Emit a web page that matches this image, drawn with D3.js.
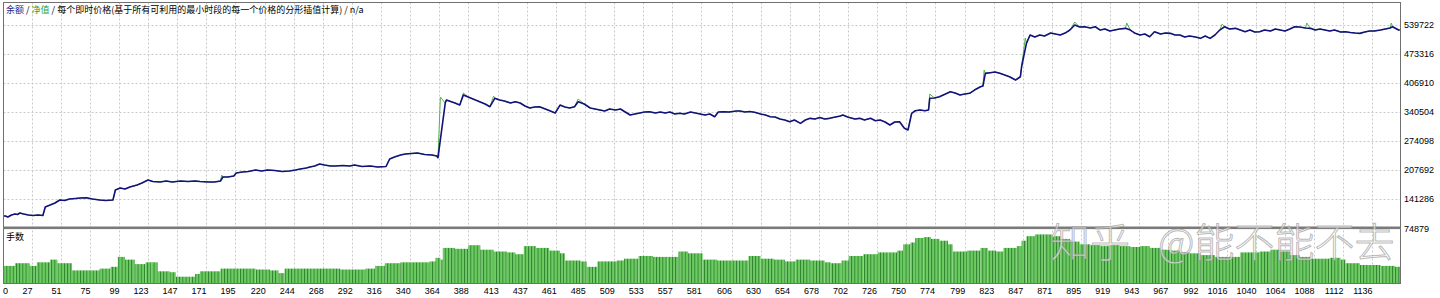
<!DOCTYPE html>
<html>
<head>
<meta charset="utf-8">
<script src="https://cdn.jsdelivr.net/npm/d3@7"></script>
<style>
  body { margin: 0; background: #fff; }
</style>
</head>
<body>
<div class="area"></div>
<script>
// balance curve (trade number / account value)
var balIdx = [0, 5, 7, 10, 13, 15, 17, 20, 24, 28, 32, 36, 38, 42, 46, 50, 54, 58, 63, 67, 72, 77, 83, 88, 94,
  96, 100, 104, 108, 114, 118, 123, 127, 133, 138, 143, 150, 156, 162, 166, 173, 178, 183, 185, 189, 194, 196,
  201, 206, 212, 217, 222, 228, 234, 240, 245, 249, 254, 257, 261, 265, 269, 274, 278, 284, 290, 294, 300, 307,
  313, 320, 323, 327, 332, 336, 341, 346, 352, 358, 362, 363,
  369, 370, 377, 381, 384, 388, 394, 398, 402, 406, 410, 414, 418, 423, 427, 431, 435, 439, 443, 447, 454, 460,
  464, 468, 472, 476, 479, 484, 489, 493, 497, 501, 505, 510, 514, 518, 522, 526, 530, 534, 538, 543, 547, 551,
  555, 559, 563, 567, 572, 576, 580, 584, 588, 592, 595, 599, 604, 610, 613, 617, 621, 625, 630, 634, 638, 642,
  646, 650, 654, 658, 663, 667, 671, 675, 679, 683, 687, 692, 696, 698, 702, 708, 712, 716, 721, 725, 729, 733,
  737, 741, 745, 749, 752,
  755, 758, 762, 766, 769, 770, 774, 778, 783, 787, 791, 795, 799, 803, 807, 812, 814, 816, 820, 824, 828, 832,
  836, 841, 845, 846, 850,
  853, 857, 861, 865, 870, 874, 878, 882, 886, 890, 894, 898, 903, 907, 911, 915, 919, 923, 927, 932, 936, 940,
  944, 948, 952, 956, 961, 965, 969, 973, 977, 981, 985, 990, 994, 998, 1002, 1006, 1010, 1014, 1018, 1023,
  1027, 1031, 1035, 1039, 1043, 1047, 1052, 1056, 1060, 1064, 1068, 1072, 1076, 1081, 1085, 1089, 1093, 1097,
  1101, 1105, 1110, 1114, 1118, 1122, 1126, 1130, 1134, 1138, 1143, 1147, 1151, 1153, 1158, 1159];
var balVal = [103000, 103000, 100700, 105300, 107600, 106400, 109900, 107600, 105300, 104100, 105300, 104100,
  123600, 128100, 132700, 139600, 138400, 141900, 143000, 144100, 144800, 141900, 139600, 138400, 139600,
  162400, 167000, 164700, 169300, 173900, 178400, 185300, 181900, 180700, 183000, 180700, 183000, 181900,
  183000, 181900, 180700, 180700, 183000, 192200, 192200, 194400, 201300, 203600, 204700, 208200, 205900,
  208200, 207000, 204700, 205900, 208200, 210400, 212700, 215000, 217300, 221900, 219600, 217300, 217300,
  218400, 217300, 219600, 216200, 217300, 215000, 216200, 233300, 237900, 242400, 244700, 245900, 247000,
  243600, 242400, 240200, 236300,
  361300, 368200, 361300, 356700, 379600, 375000, 368200, 363600, 359000, 352900, 372100, 368200, 365900,
  361300, 364300, 361300, 354500, 349900, 352200, 352900, 345300, 338500, 356700, 352200, 349900, 352900,
  364300, 359000, 349900, 347600, 345300, 343000, 347600, 345300, 347600, 340700, 333900, 336200, 338500,
  340700, 341400, 338500, 340700, 338500, 340700, 336200, 337800, 336200, 340700, 338500, 336200, 333900,
  336200, 330000, 340700, 341400, 340700, 343000, 343000, 340700, 341900, 340100, 336200, 333900, 330000,
  329300, 324700, 322500, 318600, 322500, 314900, 322500, 326300, 324700, 328200, 324700, 326300, 329300,
  331600, 333900, 329300, 324700, 326300, 322500, 326300, 320900, 322500, 317900, 311000, 317900, 318600,
  303500, 299600,
  337800, 343700, 345300, 343700, 345300, 372100, 372700, 375700, 381900, 387100, 384200, 379600, 381900,
  383500, 391000, 398600, 400200, 429200, 430600, 432200, 429200, 425300, 421400, 413900, 421400, 444300,
  497800,
  516800, 512200, 516800, 514500, 521300, 519000, 516800, 521300, 528200, 539600, 535100, 535700, 532800,
  535700, 528200, 530500, 525900, 528200, 530500, 532100, 528200, 520600, 516800, 519000, 512900, 524300,
  519000, 521300, 520600, 516800, 516800, 512200, 514500, 512200, 509200, 514500, 509200, 516800, 528200,
  535700, 530500, 532100, 528200, 524300, 528200, 523600, 524300, 528200, 525900, 530500, 528200, 525900,
  530500, 535700, 535100, 532800, 532100, 528200, 530500, 528200, 525900, 528200, 523600, 524300, 522500,
  521300, 520600, 523600, 525900, 525900, 528200, 530500, 532800, 535700, 528200, 528200];

// equity peaks where it leaves the balance line
var eqIdx = [184, 365, 384, 409, 479, 770, 815, 849, 890, 933, 1012, 1082, 1152];
var eqVal = [196700, 375000, 384200, 377300, 370500, 381900, 436800, 509900, 546500, 544200, 541900, 544200, 544200];

// lot size histogram
var lotIdx = [0, 13, 25, 31, 42, 48, 60, 83, 92, 98, 104, 112, 121, 126, 131, 141, 146, 158, 162, 166, 183, 199,
  212, 224, 231, 236, 257, 282, 303, 311, 319, 332, 348, 356, 361, 365, 367, 377, 388, 398, 409, 420, 427, 434,
  444, 455, 464, 468, 481, 486, 492, 495, 511, 517, 529, 541, 553, 562, 570, 582, 594, 612, 620, 630, 641, 650,
  659, 671, 683, 688, 697, 703, 715, 727, 736, 743, 748, 754, 758, 765, 771, 778, 785, 789, 801, 812, 818, 825,
  831, 842, 846, 850, 857, 865, 871, 878, 886, 894, 903, 911, 919, 927, 936, 944, 952, 961, 969, 977, 985, 994,
  1006, 1027, 1043, 1052, 1060, 1068, 1076, 1085, 1101, 1110, 1114, 1126, 1143, 1155];
var lotVal = [1.9, 2.2, 1.9, 2.3, 2.6, 2.2, 1.4, 1.6, 1.8, 2.9, 2.6, 2.1, 2.3, 2.3, 1.3, 1.2, 0.7, 0.7, 1.0, 1.3,
  1.6, 1.6, 1.5, 1.4, 1.1, 1.6, 1.6, 1.5, 1.6, 1.9, 2.2, 2.3, 2.3, 2.4, 2.8, 2.6, 3.9, 3.8, 4.2, 3.7, 3.5, 3.4,
  3.2, 4.1, 3.9, 3.6, 3.3, 2.5, 2.4, 1.8, 1.8, 2.4, 2.5, 2.7, 3.0, 2.9, 2.9, 3.5, 3.3, 2.6, 2.5, 2.5, 3.0, 2.7,
  2.6, 2.4, 2.6, 2.5, 2.3, 2.2, 2.5, 3.0, 3.2, 3.4, 3.4, 3.6, 4.3, 4.5, 5.0, 5.1, 4.9, 4.7, 4.3, 3.5, 3.6, 3.9,
  3.6, 3.5, 3.9, 4.1, 4.7, 5.2, 5.4, 5.4, 5.2, 4.9, 4.6, 4.3, 4.2, 4.1, 4.2, 4.1, 4.0, 4.1, 3.9, 3.7, 3.6, 3.4,
  3.3, 3.1, 2.9, 3.4, 3.5, 3.7, 3.6, 3.1, 2.9, 2.7, 2.8, 2.6, 2.2, 2.0, 1.9, 1.8];
var lastIdx = 1159;

var xTicks = [0, 27, 51, 75, 99, 123, 147, 171, 195, 220, 244, 268, 292, 316, 340, 364, 388, 413, 437, 461, 485,
  509, 533, 557, 581, 606, 630, 654, 678, 702, 726, 750, 774, 799, 823, 847, 871, 895, 919, 943, 967, 992, 1016,
  1040, 1064, 1088, 1112, 1136];
var yTicks = [74879, 141286, 207692, 274098, 340504, 406910, 473316, 539722];

var L = 3.5, R = 1400.5, T = 2.5, SEP = 227.8, B = 283.5;
var font = "'Liberation Sans', Arial, sans-serif";
var cjk = "'Noto Sans CJK SC', sans-serif";

var svg = d3.select(".area")
    .append("svg")
    .attr('width', 1440)
    .attr('height', 298)

var x = d3.scaleLinear().domain([27, 1136]).range([32, 1372]);
var y = d3.scaleLinear().domain([74879, 539722]).range([228.3, 25]);
var yLot = d3.scaleLinear().domain([0, 6]).range([283, 229]);

var defs = svg.append("defs");
defs.append("clipPath").attr("id", "mainClip")
  .append("rect").attr("x", L).attr("y", T).attr("width", R - L).attr("height", SEP - T);
defs.append("clipPath").attr("id", "lotClip")
  .append("rect").attr("x", L).attr("y", SEP).attr("width", R - L).attr("height", B - SEP);
var pat = defs.append("pattern").attr("id", "barPat")
    .attr("patternUnits", "userSpaceOnUse")
    .attr("width", 3.2).attr("height", 20)
pat.append("rect").attr("width", 3.2).attr("height", 20).attr("fill", "#6dcb63")
pat.append("rect").attr("width", 0.9).attr("height", 20).attr("fill", "#2c7f2c")

// grid
var grid = svg.append("g")
    .attr("stroke", "#c9c9c9")
    .attr("stroke-dasharray", "2,2")
    .attr("stroke-width", 1)
grid.selectAll(".gy").data(yTicks.slice(1)).enter().append("line")
    .attr("x1", L).attr("x2", R)
    .attr("y1", function (d) { return Math.round(y(d)) + 0.5; })
    .attr("y2", function (d) { return Math.round(y(d)) + 0.5; })
grid.selectAll(".gx").data(xTicks.slice(1)).enter().append("line")
    .attr("y1", T).attr("y2", B)
    .attr("x1", function (d) { return Math.round(x(d)) + 0.5; })
    .attr("x2", function (d) { return Math.round(x(d)) + 0.5; })

// lots histogram
svg.append("g").attr("clip-path", "url(#lotClip)")
  .selectAll("rect").data(lotIdx).enter().append("rect")
    .attr("x", function (d) { return x(d); })
    .attr("width", function (d, k) { return x(k + 1 < lotIdx.length ? lotIdx[k + 1] : lastIdx + 1) - x(d); })
    .attr("y", function (d, k) { return yLot(lotVal[k]); })
    .attr("height", function (d, k) { return yLot(0) - yLot(lotVal[k]); })
    .attr("fill", "url(#barPat)")

// balance / equity
var bal = balIdx.map(function (d, k) { return [d, balVal[k]]; });
var eq = bal.filter(function (p) { return eqIdx.indexOf(p[0]) < 0; })
    .concat(eqIdx.map(function (d, k) { return [d, eqVal[k]]; }))
    .sort(function (a, b) { return a[0] - b[0]; });
var line = d3.line()
    .x(function (p) { return x(p[0]); })
    .y(function (p) { return y(p[1]); })
var main = svg.append("g").attr("clip-path", "url(#mainClip)");
main.append("path").attr("d", line(eq))
    .attr("fill", "none").attr("stroke", "#55b350").attr("stroke-width", 1)
main.append("path").attr("d", line(bal))
    .attr("fill", "none").attr("stroke", "#12127a").attr("stroke-width", 1.6)
    .attr("stroke-linejoin", "round")

// frame and separator
svg.append("rect")
    .attr("x", L).attr("y", T).attr("width", R - L).attr("height", B - T)
    .attr("fill", "none").attr("stroke", "#707070").attr("stroke-width", 1)
svg.append("rect")
    .attr("x", L).attr("y", 226.5).attr("width", R - L).attr("height", 2.6)
    .attr("fill", "#7a7a7a")

// axis labels
svg.selectAll(".yl").data(yTicks).enter().append("text")
    .attr("x", 1404)
    .attr("y", function (d) { return y(d) + 3.2; })
    .text(function (d) { return d; })
    .style("font-size", "9px")
    .attr("font-family", font)
    .attr("fill", "#000")

svg.selectAll(".xl").data(xTicks).enter().append("text")
    .attr("x", function (d) { return d === 0 ? 3 : x(d) + 0.5; })
    .attr("y", 294)
    .attr("text-anchor", function (d) { return d === 0 ? "start" : "end"; })
    .text(function (d) { return d; })
    .style("font-size", "9px")
    .attr("font-family", font)
    .attr("fill", "#000")

// titles
var title = svg.append("text")
    .attr("x", 6).attr("y", 13)
    .style("font-size", "9px")
    .attr("font-family", cjk)
title.append("tspan").attr("fill", "#1e1e8c").text("余额")
title.append("tspan").attr("fill", "#000").text(" / ")
title.append("tspan").attr("fill", "#2e9e2e").text("净值")
title.append("tspan").attr("fill", "#000").text(" / 每个即时价格(基于所有可利用的最小时段的每一个价格的分形插值计算) / n/a")

svg.append("text")
    .attr("x", 6).attr("y", 240)
    .text("手数")
    .style("font-size", "9px")
    .attr("font-family", cjk)
    .attr("fill", "#000")

// watermark
var wm = svg.append("text")
    .attr("y", 257)
    .style("font-size", "40px")
    .attr("font-family", cjk)
    .attr("font-weight", 300)
    .attr("fill", "#ffffff").attr("fill-opacity", 0.6)
    .attr("stroke", "#8a8a8a").attr("stroke-opacity", 0.6).attr("stroke-width", 1)
wm.append("tspan").attr("x", 1050).text("知乎")
wm.append("tspan").attr("x", 1158).text("@能不能不去")
</script>
</body>
</html>
